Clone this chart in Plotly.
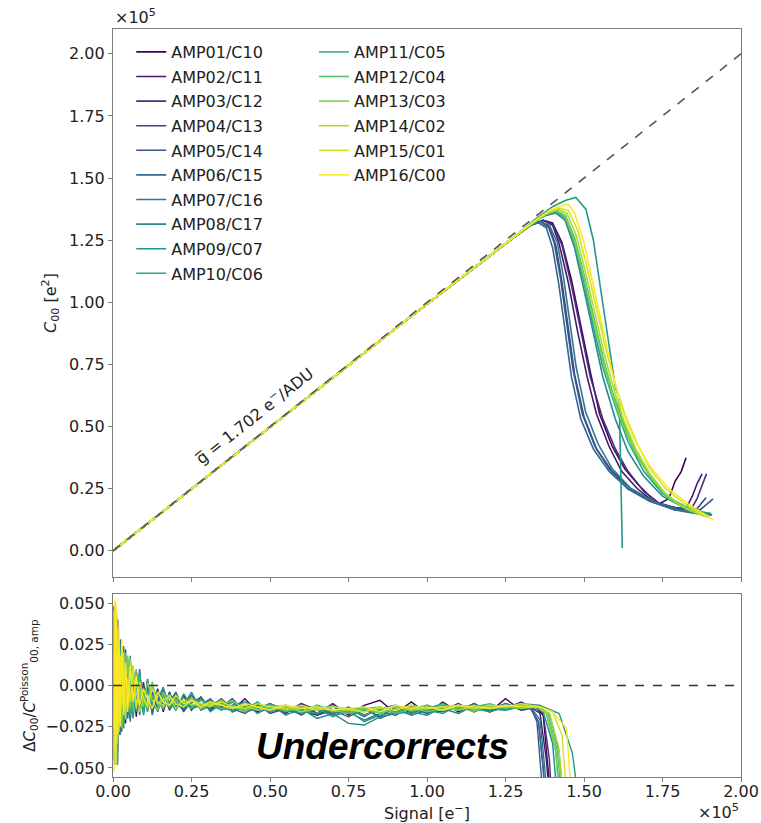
import plotly.graph_objects as go
from plotly.subplots import make_subplots
from plotly.colors import sample_colorscale

# ---------------- data (signal and C00 in units of 1e5) ----------------
names = ["AMP01/C10", "AMP02/C11", "AMP03/C12", "AMP04/C13", "AMP05/C14", "AMP06/C15",
         "AMP07/C16", "AMP08/C17", "AMP09/C07", "AMP10/C06", "AMP11/C05", "AMP12/C04",
         "AMP13/C03", "AMP14/C02", "AMP15/C01", "AMP16/C00"]

# shared linear part of the PTC (all amps coincide there)
lin_x = [0.0, 0.3, 0.6, 0.9, 1.2]
lin_y = [0.0, 0.300, 0.598, 0.895, 1.188]

# per-amp turnover / saturation part
tail_x = {
    "AMP01/C10": [1.28, 1.33, 1.37, 1.40, 1.43, 1.46, 1.49, 1.52, 1.55, 1.59, 1.63, 1.67, 1.71, 1.74, 1.77, 1.79, 1.81, 1.825],
    "AMP02/C11": [1.28, 1.33, 1.37, 1.40, 1.42, 1.45, 1.48, 1.51, 1.54, 1.58, 1.62, 1.67, 1.72, 1.78, 1.825, 1.845, 1.86, 1.876],
    "AMP03/C12": [1.28, 1.33, 1.37, 1.40, 1.43, 1.46, 1.49, 1.52, 1.56, 1.60, 1.64, 1.69, 1.74, 1.80, 1.84, 1.86, 1.875, 1.89],
    "AMP04/C13": [1.28, 1.33, 1.36, 1.39, 1.41, 1.43, 1.45, 1.47, 1.50, 1.54, 1.59, 1.65, 1.72, 1.80, 1.86, 1.889],
    "AMP05/C14": [1.28, 1.33, 1.36, 1.385, 1.405, 1.425, 1.445, 1.465, 1.495, 1.535, 1.58, 1.64, 1.71, 1.79, 1.87, 1.911],
    "AMP06/C15": [1.28, 1.33, 1.355, 1.38, 1.40, 1.42, 1.44, 1.46, 1.49, 1.53, 1.58, 1.64, 1.71, 1.79, 1.86, 1.908],
    "AMP07/C16": [1.28, 1.33, 1.36, 1.39, 1.415, 1.435, 1.455, 1.475, 1.505, 1.545, 1.59, 1.65, 1.72, 1.80, 1.87, 1.905],
    "AMP08/C17": [1.28, 1.34, 1.38, 1.41, 1.44, 1.47, 1.50, 1.53, 1.56, 1.60, 1.64, 1.69, 1.75, 1.82, 1.88, 1.905],
    "AMP09/C07": [1.28, 1.34, 1.40, 1.44, 1.474, 1.506, 1.53, 1.549, 1.565, 1.58, 1.60, 1.612, 1.618, 1.622],
    "AMP10/C06": [1.28, 1.34, 1.38, 1.41, 1.44, 1.47, 1.50, 1.53, 1.56, 1.60, 1.64, 1.69, 1.75, 1.82, 1.88, 1.90],
    "AMP11/C05": [1.28, 1.34, 1.38, 1.41, 1.44, 1.47, 1.50, 1.53, 1.56, 1.59, 1.63, 1.67, 1.72, 1.78, 1.84, 1.89],
    "AMP12/C04": [1.28, 1.34, 1.38, 1.41, 1.44, 1.47, 1.50, 1.53, 1.56, 1.59, 1.62, 1.66, 1.71, 1.77, 1.83, 1.885],
    "AMP13/C03": [1.28, 1.34, 1.38, 1.41, 1.44, 1.47, 1.50, 1.53, 1.56, 1.59, 1.62, 1.66, 1.70, 1.75, 1.80, 1.86, 1.90],
    "AMP14/C02": [1.28, 1.34, 1.38, 1.415, 1.445, 1.475, 1.505, 1.535, 1.565, 1.595, 1.625, 1.665, 1.71, 1.76, 1.81, 1.86, 1.895],
    "AMP15/C01": [1.28, 1.34, 1.38, 1.42, 1.45, 1.48, 1.51, 1.54, 1.57, 1.60, 1.63, 1.67, 1.71, 1.76, 1.82, 1.87, 1.90],
    "AMP16/C00": [1.28, 1.34, 1.39, 1.43, 1.45, 1.47, 1.50, 1.53, 1.56, 1.59, 1.62, 1.66, 1.71, 1.77, 1.83, 1.88, 1.911],
}
tail_y = {
    "AMP01/C10": [1.265, 1.31, 1.33, 1.32, 1.24, 1.09, 0.90, 0.72, 0.55, 0.42, 0.33, 0.27, 0.22, 0.19, 0.21, 0.28, 0.32, 0.375],
    "AMP02/C11": [1.265, 1.31, 1.33, 1.31, 1.24, 1.08, 0.88, 0.70, 0.55, 0.42, 0.32, 0.25, 0.20, 0.175, 0.17, 0.22, 0.27, 0.31],
    "AMP03/C12": [1.265, 1.31, 1.33, 1.315, 1.23, 1.07, 0.88, 0.70, 0.53, 0.41, 0.32, 0.24, 0.19, 0.17, 0.165, 0.21, 0.26, 0.31],
    "AMP04/C13": [1.265, 1.31, 1.325, 1.30, 1.23, 1.08, 0.90, 0.71, 0.54, 0.41, 0.32, 0.25, 0.20, 0.17, 0.17, 0.215],
    "AMP05/C14": [1.265, 1.31, 1.325, 1.31, 1.24, 1.10, 0.92, 0.73, 0.55, 0.42, 0.33, 0.25, 0.20, 0.165, 0.165, 0.209],
    "AMP06/C15": [1.265, 1.31, 1.32, 1.30, 1.22, 1.07, 0.88, 0.70, 0.53, 0.41, 0.32, 0.25, 0.20, 0.165, 0.15, 0.145],
    "AMP07/C16": [1.265, 1.31, 1.325, 1.31, 1.24, 1.10, 0.92, 0.74, 0.56, 0.43, 0.33, 0.25, 0.20, 0.165, 0.15, 0.145],
    "AMP08/C17": [1.265, 1.325, 1.35, 1.36, 1.33, 1.22, 1.05, 0.87, 0.70, 0.53, 0.40, 0.30, 0.22, 0.175, 0.155, 0.15],
    "AMP09/C07": [1.265, 1.33, 1.385, 1.41, 1.422, 1.375, 1.25, 1.087, 0.95, 0.818, 0.657, 0.617, 0.30, 0.012],
    "AMP10/C06": [1.265, 1.325, 1.355, 1.365, 1.34, 1.24, 1.08, 0.90, 0.74, 0.58, 0.44, 0.32, 0.23, 0.18, 0.155, 0.15],
    "AMP11/C05": [1.265, 1.325, 1.355, 1.37, 1.35, 1.26, 1.11, 0.94, 0.78, 0.64, 0.50, 0.38, 0.28, 0.20, 0.16, 0.14],
    "AMP12/C04": [1.265, 1.325, 1.355, 1.37, 1.35, 1.25, 1.10, 0.93, 0.77, 0.63, 0.52, 0.40, 0.30, 0.21, 0.165, 0.14],
    "AMP13/C03": [1.265, 1.32, 1.355, 1.37, 1.35, 1.25, 1.10, 0.93, 0.77, 0.63, 0.52, 0.41, 0.32, 0.24, 0.19, 0.155, 0.14],
    "AMP14/C02": [1.265, 1.325, 1.36, 1.375, 1.36, 1.27, 1.12, 0.95, 0.79, 0.65, 0.53, 0.41, 0.31, 0.23, 0.18, 0.15, 0.135],
    "AMP15/C01": [1.265, 1.325, 1.36, 1.38, 1.37, 1.29, 1.14, 0.97, 0.81, 0.67, 0.55, 0.43, 0.33, 0.25, 0.19, 0.15, 0.135],
    "AMP16/C00": [1.265, 1.325, 1.37, 1.39, 1.395, 1.36, 1.24, 1.07, 0.90, 0.72, 0.57, 0.45, 0.34, 0.25, 0.19, 0.15, 0.125],
}

# residuals (bottom panel): shared signal grid (1e5 e-) and values in units of 1e-3
res_x = [0.003, 0.006, 0.009, 0.012, 0.015, 0.019, 0.023, 0.028, 0.034, 0.040, 0.047, 0.055,
         0.064, 0.074, 0.085, 0.097, 0.110, 0.125, 0.142, 0.160, 0.180, 0.200, 0.225, 0.250,
         0.280, 0.310, 0.345, 0.380, 0.420, 0.460, 0.500, 0.550, 0.600, 0.650, 0.700, 0.750,
         0.800, 0.850, 0.900, 0.950, 1.000, 1.050, 1.100, 1.150, 1.200, 1.250, 1.300]
res_y = {
    "AMP01/C10": [40,-42,28,-38,23,-22,22,-21,13,-23,10,-16,6,-19,4,-15,2,-17,-2,-16,-4,-15,-6,-15,-7,-15,-9,-15,-8,-16,-11,-17,-11,-17,-11,-18,-12,-9,-17,-10,-17,-10,-16,-11,-16,-8,-15],
    "AMP02/C11": [-35,30,-45,20,-15,25,-25,10,-20,15,-15,8,-18,5,-12,2,-15,-1,-14,-3,-12,-5,-14,-7,-13,-9,-14,-10,-15,-11,-16,-12,-15,-18,-13,-17,-14,-19,-13,-16,-12,-15,-11,-16,-12,-14,-10],
    "AMP03/C12": [25,-48,35,-20,40,-30,15,-25,18,-12,8,-20,10,-14,2,-16,0,-12,-10,-4,-15,-8,-12,-6,-14,-10,-13,-8,-16,-12,-14,-16,-11,-15,-17,-13,-18,-14,-12,-17,-13,-15,-12,-13,-16,-11,-14],
    "AMP04/C13": [-20,45,-30,15,-40,20,-28,18,-10,22,-18,12,-16,8,-14,-2,-13,-4,-16,-6,-13,-10,-15,-8,-12,-14,-9,-16,-13,-11,-17,-14,-12,-18,-15,-19,-14,-16,-18,-13,-15,-16,-12,-15,-14,-11,-15],
    "AMP05/C14": [48,-25,10,-45,30,-15,28,-28,20,-8,16,-20,4,-12,10,-17,-1,-10,-14,-3,-12,-6,-16,-9,-11,-13,-8,-14,-17,-12,-15,-13,-18,-12,-16,-14,-19,-13,-17,-12,-16,-13,-15,-12,-14,-15,-12],
    "AMP06/C15": [-45,20,-15,35,-25,10,-30,22,-22,12,-20,14,-10,6,-18,0,-14,-8,-3,-15,-6,-13,-7,-14,-12,-8,-15,-12,-10,-17,-13,-16,-12,-14,-17,-15,-13,-20,-16,-14,-17,-13,-15,-11,-16,-13,-12],
    "AMP07/C16": [15,-40,45,-22,18,-26,12,-14,24,-18,6,-22,12,-16,0,-14,4,-18,-4,-12,-10,-4,-14,-11,-7,-15,-12,-10,-16,-14,-11,-15,-17,-13,-18,-16,-21,-17,-14,-18,-15,-14,-17,-12,-15,-14,-13],
    "AMP08/C17": [-30,38,-22,28,-48,18,-12,20,-26,8,-14,18,-20,2,-10,-16,3,-13,-9,-1,-14,-7,-12,-4,-15,-12,-9,-16,-13,-15,-11,-18,-14,-20,-17,-23,-24,-19,-17,-16,-18,-13,-15,-12,-16,-11,-14],
    "AMP09/C07": [42,-18,20,-33,12,-24,26,-10,15,-21,12,-10,-18,9,-12,-4,-16,0,-13,-11,-5,-14,-10,-13,-8,-16,-11,-13,-15,-10,-16,-13,-17,-14,-19,-15,-22,-18,-16,-13,-15,-17,-12,-14,-16,-13,-11],
    "AMP10/C06": [-15,35,-38,12,-28,26,-16,14,-24,16,-8,10,-14,-2,8,-18,-3,-11,-15,-6,-10,-15,-5,-12,-13,-9,-14,-15,-10,-13,-16,-12,-15,-17,-13,-14,-18,-15,-12,-16,-14,-11,-15,-13,-12,-15,-13],
    "AMP11/C05": [30,-45,15,-28,35,-12,20,-24,10,-16,14,-18,2,-15,6,-10,-14,2,-12,-5,-13,-8,-11,-14,-9,-12,-15,-10,-13,-14,-12,-16,-13,-15,-12,-17,-15,-14,-16,-13,-15,-12,-14,-13,-11,-14,-12],
    "AMP12/C04": [-40,25,-20,42,-18,28,-20,16,-14,20,-12,6,-16,10,-8,-2,-15,-6,-10,-14,-7,-11,-13,-8,-12,-10,-14,-12,-16,-11,-14,-13,-16,-12,-15,-17,-14,-13,-17,-14,-12,-15,-13,-16,-12,-13,-14],
    "AMP13/C03": [20,-35,40,-48,28,-20,16,-26,8,-12,18,-14,6,-12,-2,-13,2,-9,-15,-4,-12,-9,-13,-7,-14,-11,-12,-9,-15,-13,-12,-15,-14,-13,-16,-15,-14,-17,-14,-13,-16,-14,-12,-15,-13,-12,-14],
    "AMP14/C02": [-25,48,-10,30,-35,15,-22,24,-16,10,-10,16,-8,4,-16,-8,-12,1,-11,-9,-6,-14,-8,-12,-11,-13,-9,-14,-12,-15,-13,-12,-16,-14,-13,-15,-16,-14,-13,-15,-14,-13,-15,-12,-14,-13,-12],
    "AMP15/C01": [45,-30,50,-20,10,-28,18,-12,20,-20,4,-10,12,-14,2,-8,-13,-2,-10,-12,-6,-11,-13,-9,-11,-12,-10,-13,-14,-11,-13,-14,-12,-15,-13,-14,-16,-13,-15,-12,-14,-13,-12,-14,-12,-13,-11],
    "AMP16/C00": [-52,52,-48,45,-30,35,-25,28,-18,14,-16,12,-10,6,-12,-2,-8,-14,-4,-10,-12,-6,-11,-9,-13,-10,-12,-14,-11,-13,-15,-12,-14,-13,-15,-14,-13,-16,-12,-14,-13,-15,-12,-13,-14,-12,-13],
}
# residual roll-off at saturation (x in 1e5 e-, y in 1e-3)
res_tail_x = {
    "AMP01/C10": [1.34, 1.37, 1.385, 1.40], "AMP02/C11": [1.33, 1.36, 1.38, 1.395],
    "AMP03/C12": [1.34, 1.37, 1.39, 1.40], "AMP04/C13": [1.33, 1.355, 1.37, 1.38],
    "AMP05/C14": [1.33, 1.35, 1.365, 1.375], "AMP06/C15": [1.33, 1.355, 1.37, 1.38],
    "AMP07/C16": [1.33, 1.36, 1.375, 1.385], "AMP08/C17": [1.34, 1.37, 1.40, 1.42],
    "AMP09/C07": [1.358, 1.421, 1.463, 1.49], "AMP10/C06": [1.35, 1.39, 1.42, 1.44],
    "AMP11/C05": [1.35, 1.38, 1.41, 1.43], "AMP12/C04": [1.35, 1.385, 1.415, 1.435],
    "AMP13/C03": [1.35, 1.38, 1.41, 1.425], "AMP14/C02": [1.35, 1.39, 1.42, 1.44],
    "AMP15/C01": [1.36, 1.40, 1.43, 1.45], "AMP16/C00": [1.36, 1.40, 1.444, 1.465],
}
res_tail_y = {
    "AMP01/C10": [-12, -18, -45, -80], "AMP02/C11": [-13, -17, -45, -80],
    "AMP03/C12": [-12, -17, -45, -80], "AMP04/C13": [-14, -22, -50, -80],
    "AMP05/C14": [-13, -22, -50, -80], "AMP06/C15": [-14, -22, -50, -80],
    "AMP07/C16": [-13, -21, -50, -80], "AMP08/C17": [-13, -16, -35, -80],
    "AMP09/C07": [-12, -17, -41, -80], "AMP10/C06": [-13, -17, -40, -80],
    "AMP11/C05": [-13, -17, -40, -80], "AMP12/C04": [-12, -17, -40, -80],
    "AMP13/C03": [-13, -17, -40, -80], "AMP14/C02": [-13, -17, -38, -80],
    "AMP15/C01": [-13, -16, -30, -80], "AMP16/C00": [-13, -16, -26, -80],
}

mean_gain_text = "g\u0305 = 1.702 e<sup>\u2212</sup>/ADU"

# ---------------- figure ----------------
colors = sample_colorscale("Viridis", [i / (len(names) - 1) for i in range(len(names))])
FONT = "DejaVu Sans"
AXC = "#7a7a7a"

fig = make_subplots(rows=2, cols=1, shared_xaxes=False, vertical_spacing=0.0227,
                    row_heights=[0.7326, 0.2447])

for i, n in enumerate(names):
    fig.add_trace(go.Scatter(x=lin_x + tail_x[n], y=lin_y + tail_y[n], mode="lines",
                             line=dict(color=colors[i], width=1.6), name=n,
                             legend="legend" if i < 10 else "legend2",
                             legendgroup=n, showlegend=True), row=1, col=1)

for i, n in enumerate(names):
    fig.add_trace(go.Scatter(x=res_x + res_tail_x[n],
                             y=[v / 1000 for v in res_y[n] + res_tail_y[n]],
                             mode="lines", line=dict(color=colors[i], width=1.4),
                             name=n, showlegend=False), row=2, col=1)

# reference lines
fig.add_trace(go.Scatter(x=[0, 2], y=[0, 2], mode="lines",
                         line=dict(color="#555555", width=1.6, dash="dash"),
                         showlegend=False, hoverinfo="skip"), row=1, col=1)
fig.add_trace(go.Scatter(x=[0, 2], y=[0, 0], mode="lines",
                         line=dict(color="#333333", width=1.4, dash="dash"),
                         showlegend=False, hoverinfo="skip"), row=2, col=1)

tickvals = [0, 0.25, 0.5, 0.75, 1.0, 1.25, 1.5, 1.75, 2.0]
axis_common = dict(showline=True, linecolor=AXC, linewidth=1.2, mirror=True, automargin=False,
                   ticks="outside", ticklen=4, tickcolor=AXC, showgrid=False, zeroline=False,
                   tickfont=dict(family=FONT, size=16, color="#222"))
fig.update_xaxes(range=[0, 2], tickvals=tickvals, showticklabels=False, row=1, col=1, **axis_common)
fig.update_xaxes(range=[0, 2], tickvals=tickvals, tickformat=".2f", row=2, col=1,
                 ticklabelstandoff=-4,
                 title=dict(text="Signal [e<sup>\u2212</sup>]", font=dict(family=FONT, size=16, color="#222"), standoff=8),
                 **axis_common)
fig.update_yaxes(range=[-0.105, 2.1], tickvals=tickvals, tickformat=".2f", row=1, col=1,
                 title=dict(text="<i>C</i><sub>00</sub> [e<sup>2</sup>]", font=dict(family=FONT, size=16, color="#222"), standoff=8),
                 **axis_common)
fig.update_yaxes(range=[-0.0555, 0.0555], tickvals=[-0.05, -0.025, 0, 0.025, 0.05], tickformat=".3f", row=2, col=1,
                 title=dict(text="\u0394<i>C</i><sub>00</sub>/<i>C</i><sup>Poisson</sup><sub>00, amp</sub>",
                            font=dict(family=FONT, size=15, color="#222"), standoff=6),
                 **axis_common)

legend_common = dict(font=dict(family=FONT, size=16, color="#222"), bgcolor="rgba(255,255,255,0)",
                     borderwidth=0, yanchor="top", xanchor="left", traceorder="grouped",
                     tracegroupgap=0.8)
fig.update_layout(
    width=761, height=823,
    margin=dict(l=113, r=20, t=29, b=46, autoexpand=False),
    plot_bgcolor="white", paper_bgcolor="white",
    font=dict(family=FONT, size=16, color="#222"),
    legend=dict(x=0.029, y=0.992, **legend_common),
    legend2=dict(x=0.32, y=0.992, **legend_common),
)

fig.add_annotation(text="\u00d710<sup>5</sup>", xref="paper", yref="paper", x=0.0, y=1.0,
                   xanchor="left", yanchor="bottom", showarrow=False,
                   font=dict(family=FONT, size=16, color="#222"))
fig.add_annotation(text="\u00d710<sup>5</sup>", xref="paper", yref="paper", x=1.0, y=-0.0455,
                   xanchor="right", yanchor="middle", showarrow=False,
                   font=dict(family=FONT, size=16, color="#222"))
fig.add_annotation(text=mean_gain_text, x=0.45, y=0.545, xref="x", yref="y", showarrow=False,
                   textangle=-38.3, font=dict(family=FONT, size=16, color="#222"))
fig.add_annotation(text="<b><i>Undercorrects</i></b>", x=0.858, y=-0.037, xref="x2", yref="y2",
                   showarrow=False, font=dict(family="Liberation Sans", size=37, color="black"))

fig.write_html("out.html")
